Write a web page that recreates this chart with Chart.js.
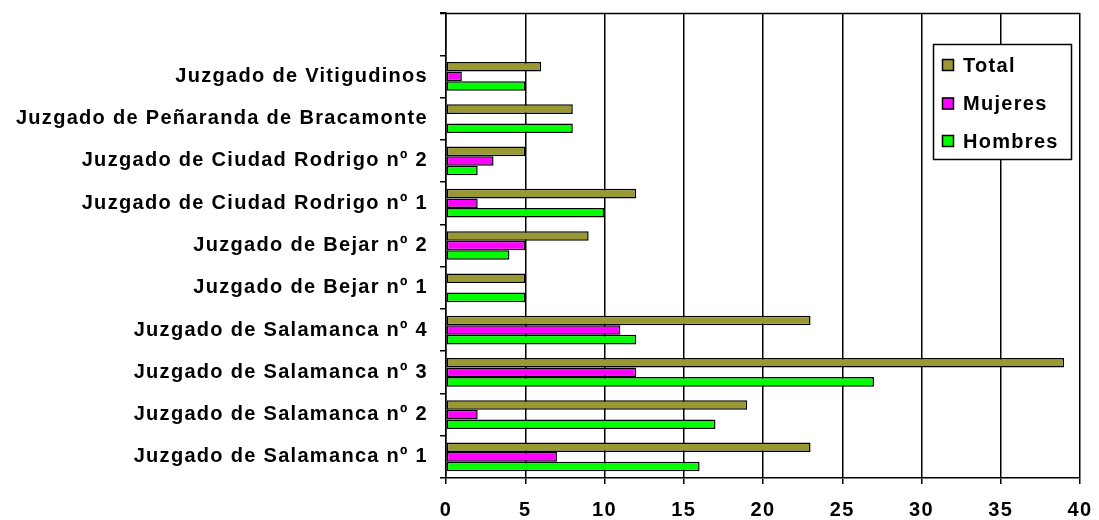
<!DOCTYPE html>
<html>
<head>
<meta charset="utf-8">
<script src="https://cdn.jsdelivr.net/npm/chart.js@4/dist/chart.umd.min.js"></script>
<style>
  html, body { margin: 0; padding: 0; background: #fff; }
  #wrap { width: 1099px; height: 520px; }
</style>
</head>
<body>
<div id="wrap"><canvas id="juzgadosChart" width="1099" height="520"></canvas></div>
<script>
// categorías de arriba a abajo (la primera queda vacía, como en el original)
const juzgados = [
  "",
  "Juzgado de Vitigudinos",
  "Juzgado de Peñaranda de Bracamonte",
  "Juzgado de Ciudad Rodrigo nº 2",
  "Juzgado de Ciudad Rodrigo nº 1",
  "Juzgado de Bejar nº 2",
  "Juzgado de Bejar nº 1",
  "Juzgado de Salamanca nº 4",
  "Juzgado de Salamanca nº 3",
  "Juzgado de Salamanca nº 2",
  "Juzgado de Salamanca nº 1"
];
const total   = [null, 6, 8, 5, 12, 9, 5, 23, 39, 19, 23];
const mujeres = [null, 1, 0, 3, 2, 5, 0, 11, 12, 2, 7];
const hombres = [null, 5, 8, 2, 10, 4, 5, 12, 27, 17, 16];
const xTicks  = [0, 5, 10, 15, 20, 25, 30, 35, 40];

const FONT = "'Liberation Sans', Arial, sans-serif";
const FONT_SIZE = 20;
const LETTER_SPACING = "1.3px";
const LINE_W = 1.5;

document.addEventListener("DOMContentLoaded", function () {
  if (typeof Chart === "undefined") {
    console.error("Chart.js no cargado");
    return;
  }

  // espaciado de letras como en el gráfico de Excel
  const spacingPlugin = {
    id: "spacing",
    beforeLayout(chart) { chart.ctx.letterSpacing = LETTER_SPACING; },
    beforeDraw(chart) { chart.ctx.letterSpacing = LETTER_SPACING; }
  };

  // línea superior del área de trazado
  const frameTop = {
    id: "frameTop",
    afterDatasetsDraw(chart) {
      const { ctx, chartArea } = chart;
      ctx.save();
      ctx.strokeStyle = "#000";
      ctx.lineWidth = LINE_W;
      ctx.beginPath();
      ctx.moveTo(chartArea.left - 6, chartArea.top + 0.5);
      ctx.lineTo(chartArea.right, chartArea.top + 0.5);
      ctx.stroke();
      ctx.restore();
    }
  };

  // leyenda dentro del gráfico, con marco
  const boxLegend = {
    id: "boxLegend",
    afterDraw(chart) {
      const ctx = chart.ctx;
      const x = 933, y = 44, w = 138, h = 115;
      const rows = [65, 103.5, 141];
      ctx.save();
      ctx.fillStyle = "#fff";
      ctx.fillRect(x, y, w, h);
      ctx.strokeStyle = "#000";
      ctx.lineWidth = LINE_W;
      ctx.strokeRect(x + 0.5, y + 0.5, w, h);
      ctx.font = "bold " + FONT_SIZE + "px " + FONT;
      ctx.letterSpacing = LETTER_SPACING;
      ctx.textBaseline = "middle";
      chart.data.datasets.forEach((ds, i) => {
        const cy = rows[i];
        ctx.fillStyle = ds.backgroundColor;
        ctx.fillRect(942, cy - 6, 12, 12);
        ctx.strokeRect(942.5, cy - 5.5, 11, 11);
        ctx.fillStyle = "#000";
        ctx.fillText(ds.label, 963, cy + 1);
      });
      ctx.restore();
    }
  };

  const el = document.getElementById("juzgadosChart");
  new Chart(el.getContext("2d"), {
    type: "bar",
    data: {
      labels: juzgados,
      datasets: [
        { label: "Total",   data: total,   backgroundColor: "#999933" },
        { label: "Mujeres", data: mujeres, backgroundColor: "#ff00ff" },
        { label: "Hombres", data: hombres, backgroundColor: "#00ff00" }
      ].map((d) => Object.assign(d, {
        borderColor: "#000",
        borderWidth: LINE_W,
        borderSkipped: false,
        categoryPercentage: 0.68,
        barPercentage: 1.0
      }))
    },
    options: {
      indexAxis: "y",
      responsive: false,
      animation: false,
      layout: { padding: { top: 13, right: 19, bottom: 0, left: 0 } },
      plugins: {
        legend: { display: false },
        tooltip: { enabled: false }
      },
      scales: {
        x: {
          min: xTicks[0],
          max: xTicks[xTicks.length - 1],
          afterBuildTicks(scale) {
            scale.ticks = xTicks.map((v) => ({ value: v }));
          },
          afterFit(scale) {
            scale.height = 42;
            scale.paddingLeft = 0;
            scale.paddingRight = 0;
          },
          grid: { color: "#000", lineWidth: LINE_W, tickLength: 6, tickColor: "#000" },
          border: { color: "#000", width: LINE_W },
          ticks: {
            color: "#000",
            padding: 14,
            maxRotation: 0,
            font: { family: FONT, size: FONT_SIZE, weight: "bold" }
          }
        },
        y: {
          afterFit(scale) {
            scale.width = 446;
            scale.paddingTop = 0;
            scale.paddingBottom = 0;
          },
          grid: { drawOnChartArea: false, color: "#000", lineWidth: LINE_W, tickLength: 6 },
          border: { color: "#000", width: LINE_W },
          ticks: {
            color: "#000",
            padding: 12,
            autoSkip: false,
            font: { family: FONT, size: FONT_SIZE, weight: "bold" }
          }
        }
      }
    },
    plugins: [spacingPlugin, frameTop, boxLegend]
  });
});
</script>
</body>
</html>
